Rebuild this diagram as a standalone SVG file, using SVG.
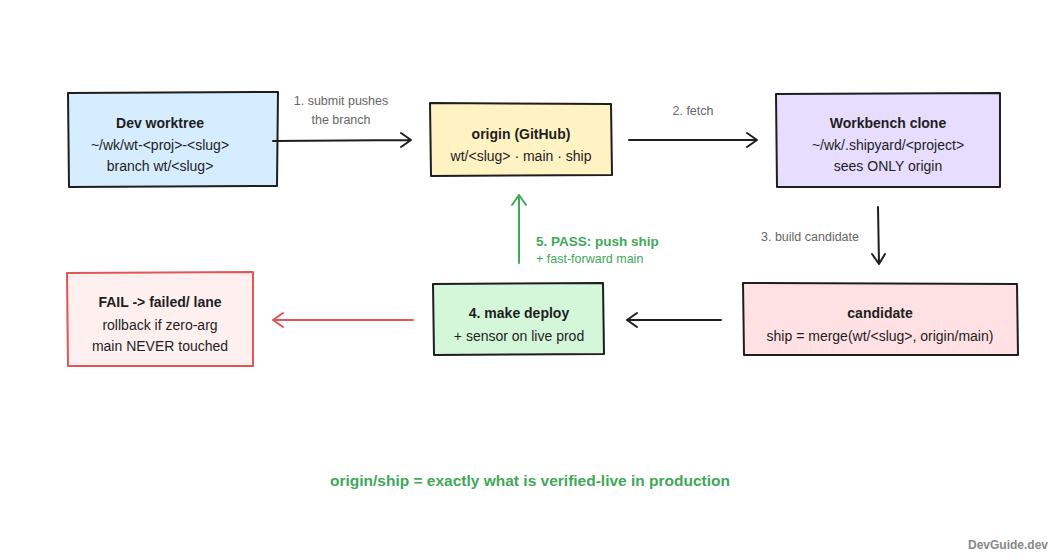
<svg xmlns="http://www.w3.org/2000/svg" width="1060" height="560" viewBox="0 0 1060 560">
<defs>
<style>
.box{stroke:#1e1e1e;stroke-width:2;stroke-linejoin:round}
.t{font-family:"Liberation Sans",Arial,sans-serif;font-size:14px;fill:#1e1e1e;text-anchor:middle}
.b{font-weight:bold}
.lbl{font-family:"Liberation Sans",Arial,sans-serif;font-size:12.5px;fill:#666;text-anchor:middle}
.ar{fill:none;stroke:#1e1e1e;stroke-width:2;stroke-linecap:round;stroke-linejoin:round}
.g{stroke:#40a858}
.r{stroke:#e05555}
</style>
</defs>
<rect width="1060" height="560" fill="#ffffff"/>
<g id="dev-worktree">
<path class="box" fill="#d6ecff" d="M68,93 L278,92 L277,186 L69,187 Z"/>
<text class="t b" x="160" y="128">Dev worktree</text>
<text class="t" x="160" y="150">~/wk/wt-&lt;proj&gt;-&lt;slug&gt;</text>
<text class="t" x="160" y="171">branch wt/&lt;slug&gt;</text>
</g>
<g id="origin">
<path class="box" fill="#fff3c4" d="M430,103 L611,104 L612,175 L431,176 Z"/>
<text class="t b" x="521" y="139">origin (GitHub)</text>
<text class="t" x="521" y="161">wt/&lt;slug&gt; · main · ship</text>
</g>
<g id="workbench">
<path class="box" fill="#e6ddff" d="M776,94 L1000,93 L1000,187 L777,187 Z"/>
<text class="t b" x="888" y="128">Workbench clone</text>
<text class="t" x="888" y="150">~/wk/.shipyard/&lt;project&gt;</text>
<text class="t" x="888" y="171">sees ONLY origin</text>
</g>
<g id="candidate">
<path class="box" fill="#ffe0e3" d="M743,283 L1017,284 L1018,355 L744,355 Z"/>
<text class="t b" x="880" y="318">candidate</text>
<text class="t" x="880" y="341">ship = merge(wt/&lt;slug&gt;, origin/main)</text>
</g>
<g id="deploy">
<path class="box" fill="#d4f7da" d="M433,284 L603,283 L604,354 L434,355 Z"/>
<text class="t b" x="519" y="318">4. make deploy</text>
<text class="t" x="519" y="341">+ sensor on live prod</text>
</g>
<g id="fail">
<path class="box" fill="#fff0f0" style="stroke:#e05555" d="M67,273 L253,272 L253,366 L68,366 Z"/>
<text class="t b" x="160" y="307">FAIL -&gt; failed/ lane</text>
<text class="t" x="160" y="330">rollback if zero-arg</text>
<text class="t" x="160" y="351">main NEVER touched</text>
</g>
<g id="connectors">
<path class="ar" d="M273,141 L411,140 M401,133 L411,140 L401,147"/>
<text class="lbl" x="341" y="105">1. submit pushes</text>
<text class="lbl" x="341" y="124">the branch</text>
<path class="ar" d="M629,140 L757,140 M747,133 L757,140 L747,147"/>
<text class="lbl" x="693" y="115">2. fetch</text>
<path class="ar" d="M878,207 L879,264 M872,254 L879,264 L885,254"/>
<text class="lbl" x="810" y="241">3. build candidate</text>
<path class="ar" d="M721,320 L627,320 M637,313 L627,320 L637,327"/>
<path class="ar g" d="M519,263 L519,195 M512,205 L519,195 L526,205"/>
<text class="t b" x="536" y="246" style="text-anchor:start;fill:#40a858;font-size:13.5px">5. PASS: push ship</text>
<text class="lbl" x="536" y="263" style="text-anchor:start;fill:#40a858;font-size:12.5px">+ fast-forward main</text>
<path class="ar r" d="M413,320 L273,320 M283,313 L273,320 L283,327"/>
</g>
<text class="t b" x="530" y="486" style="fill:#40a858;font-size:15.5px">origin/ship = exactly what is verified-live in production</text>
<text x="1048" y="549" style="font-family:'Liberation Sans',Arial,sans-serif;font-size:12px;font-weight:bold;fill:#888;text-anchor:end">DevGuide.dev</text>
</svg>
